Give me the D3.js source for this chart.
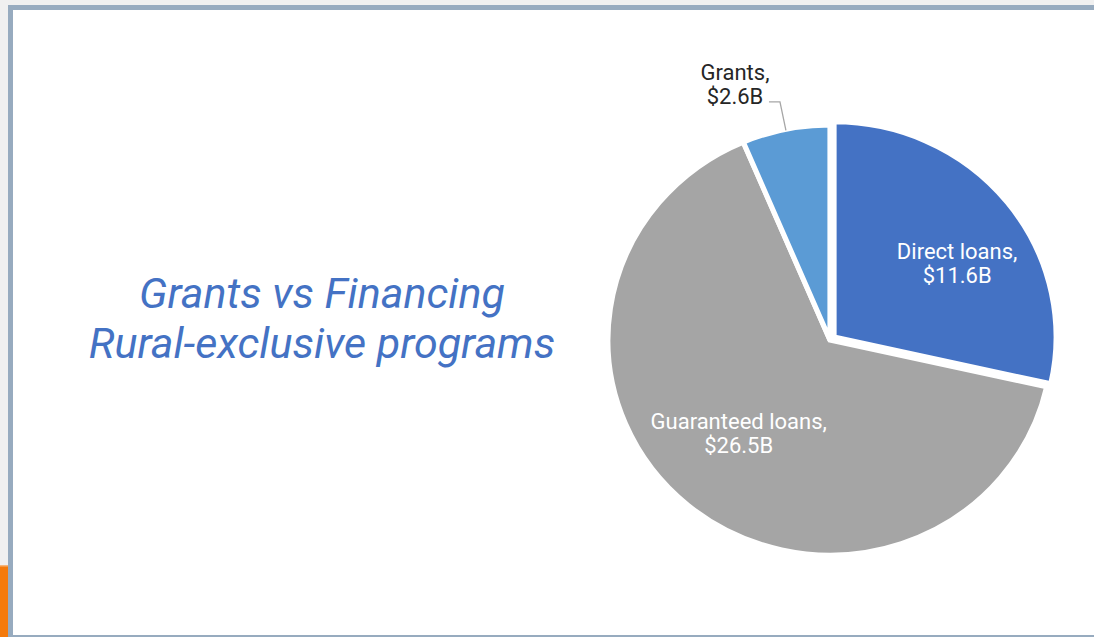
<!DOCTYPE html>
<html>
<head>
<meta charset="utf-8">
<script src="https://cdn.jsdelivr.net/npm/d3@7/dist/d3.min.js"></script>
<style>
  html, body { margin: 0; padding: 0; background: #f0f0f0; }
  svg { display: block; }
</style>
</head>
<body>
<svg id="chart" width="1094" height="637"></svg>
<script>
// Funding split for rural-exclusive programs, in billions of dollars
const categories = ["Direct loans", "Guaranteed loans", "Grants"];
const values = [11.6, 26.5, 2.6];
const valueLabels = ["$11.6B", "$26.5B", "$2.6B"];
const colors = ["#4472c4", "#a5a5a5", "#5b9bd5"];
const titleLines = ["Grants vs Financing", "Rural-exclusive programs"];

const W = 1094, H = 637;
const svg = d3.select("#chart");

// Slide frame
svg.append("rect").attr("x", 0).attr("y", 0).attr("width", W).attr("height", H).attr("fill", "#f0f0f0");
svg.append("rect").attr("x", 0).attr("y", 565).attr("width", 8).attr("height", H - 565).attr("fill", "#f47a0c");
svg.append("rect").attr("x", 0).attr("y", 565).attr("width", 8).attr("height", 1.5).attr("fill", "#f6b57a");
svg.append("rect").attr("x", 8).attr("y", 5).attr("width", W - 8).attr("height", H - 5).attr("fill", "#97abbf");
svg.append("rect").attr("x", 13).attr("y", 10).attr("width", W - 13).attr("height", 625).attr("fill", "#ffffff");

// Title
const title = svg.append("text")
  .attr("x", 322).attr("y", 308)
  .attr("text-anchor", "middle")
  .attr("font-family", "Roboto, 'Open Sans', sans-serif")
  .attr("font-style", "italic")
  .attr("font-size", 43)
  .attr("fill", "#4472c4");
title.selectAll("tspan").data(titleLines).join("tspan")
  .attr("x", 322).attr("dy", (d, i) => i === 0 ? 0 : 50)
  .text(d => d);

// Pie
const cx = 830, cy = 340, r = 215, stretchX = 1.033;
const pie = d3.pie().sort(null).value(d => d)(values);
const arc = d3.arc().innerRadius(0).outerRadius(r);
const explode = [5, 0, 0];

const g = svg.append("g").attr("transform", `translate(${cx},${cy}) scale(${stretchX},1)`);

g.selectAll("path.slice").data(pie).join("path")
  .attr("class", "slice")
  .attr("d", arc)
  .attr("fill", (d, i) => colors[i])
  .attr("stroke", "#ffffff")
  .attr("stroke-width", 5)
  .attr("stroke-linejoin", "miter")
  .attr("transform", (d, i) => {
    const a = (d.startAngle + d.endAngle) / 2;
    return `translate(${Math.sin(a) * explode[i]},${-Math.cos(a) * explode[i]})`;
  });

// Inside labels for the two large slices (radius fraction and angular nudge per slice)
const labelFont = "Roboto, 'Liberation Sans', Arial, sans-serif";
const labelSize = 22;
const lineGap = 24;
const labelRadius = [0.65, 0.60];
const labelTurn = [0.126, 0.06];

pie.forEach((d, i) => {
  if (i === 2) return;
  const la = d3.arc().innerRadius(r * labelRadius[i]).outerRadius(r * labelRadius[i]);
  const c = la.centroid({ startAngle: d.startAngle + labelTurn[i], endAngle: d.endAngle + labelTurn[i] });
  const a = (d.startAngle + d.endAngle) / 2;
  const x = cx + (c[0] + Math.sin(a) * explode[i]) * stretchX;
  const y = cy + c[1] - Math.cos(a) * explode[i];
  const t = svg.append("text")
    .attr("text-anchor", "middle")
    .attr("font-family", labelFont)
    .attr("font-size", labelSize)
    .attr("fill", "#ffffff");
  t.append("tspan").attr("x", x).attr("y", y - lineGap / 2 + 7).text(categories[i] + ",");
  t.append("tspan").attr("x", x).attr("y", y + lineGap / 2 + 7).text(valueLabels[i]);
});

// Outside label with leader line for the small slice
{
  const i = 2, d = pie[i];
  const a = (d.startAngle + d.endAngle) / 2;
  const edge = [cx + Math.sin(a) * (r - 1) * stretchX, cy - Math.cos(a) * (r - 1)];
  const elbow = [cx + Math.sin(a) * r * 1.13 * stretchX, cy - Math.cos(a) * r * 1.13];
  const end = [elbow[0] - 11, elbow[1]];
  svg.append("path")
    .attr("d", d3.line()([edge, elbow, end]))
    .attr("fill", "none")
    .attr("stroke", "#a6a6a6")
    .attr("stroke-width", 1.3);
  const lx = elbow[0] - 45;
  const t = svg.append("text")
    .attr("text-anchor", "middle")
    .attr("font-family", labelFont)
    .attr("font-size", labelSize)
    .attr("fill", "#262626");
  t.append("tspan").attr("x", lx).attr("y", end[1] + 2 - lineGap).text(categories[i] + ",");
  t.append("tspan").attr("x", lx).attr("y", end[1] + 2).text(valueLabels[i]);
}
</script>
</body>
</html>
